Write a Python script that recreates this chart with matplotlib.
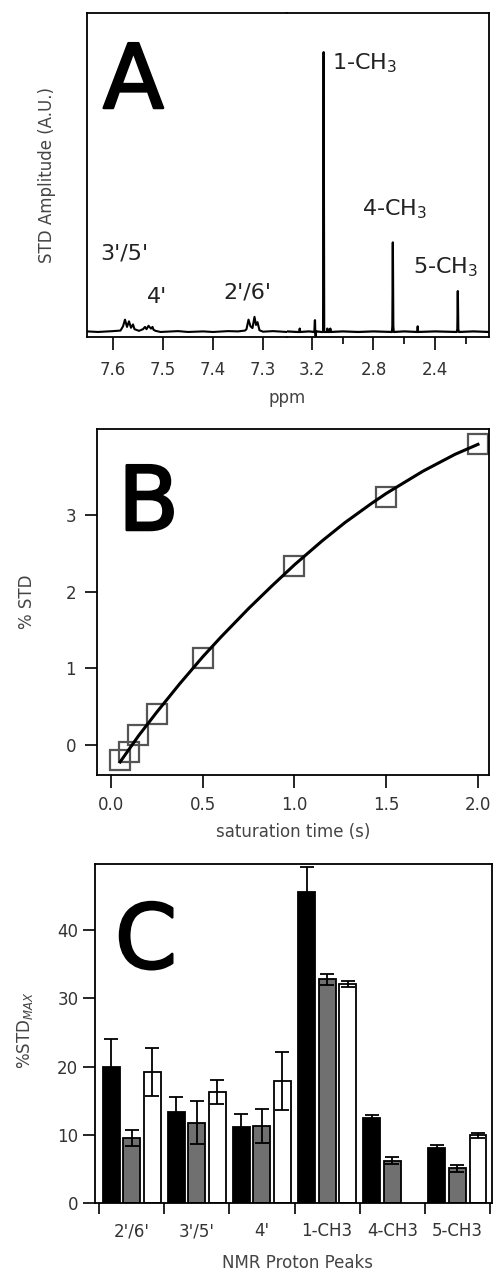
import numpy as np
import matplotlib
matplotlib.use("Agg")
import matplotlib.pyplot as plt
import matplotlib.patheffects as pe
from matplotlib.ticker import FixedLocator, NullLocator

plt.rcParams['font.family'] = ['DejaVu Sans']
plt.rcParams['mathtext.default'] = 'regular'

W, H = 493, 1273

# ---------------- Panel A data (spectrum vertices) ----------------
ppm_arom = [7.652, 7.63, 7.60, 7.585, 7.580, 7.576, 7.572, 7.568, 7.564, 7.560, 7.557,
            7.554, 7.548, 7.540, 7.536, 7.533, 7.529, 7.524, 7.521, 7.519, 7.515, 7.505,
            7.47, 7.45, 7.42, 7.40, 7.37, 7.35, 7.336, 7.333, 7.329, 7.325, 7.321, 7.317,
            7.314, 7.311, 7.307, 7.30, 7.28, 7.252]
amp_arom = [0.002, 0.0, 0.003, 0.005, 0.02, 0.044, 0.018, 0.038, 0.015, 0.027, 0.01,
            0.008, 0.004, 0.01, 0.018, 0.010, 0.022, 0.012, 0.018, 0.008, 0.004, 0.0,
            0.003, 0.0, 0.002, 0.0, 0.003, 0.002, 0.005, 0.01, 0.044, 0.02, 0.014, 0.054,
            0.025, 0.035, 0.006, 0.001, 0.003, 0.0]
ppm_alk = [3.363, 3.30, 3.282, 3.280, 3.278, 3.22, 3.185, 3.181, 3.179, 3.176, 3.174,
           3.170, 3.140, 3.128, 3.1245, 3.121, 3.11, 3.102, 3.100, 3.098, 3.083, 3.081,
           3.079, 3.00, 2.90, 2.80, 2.68, 2.677, 2.674, 2.671, 2.668, 2.60, 2.514, 2.512,
           2.510, 2.40, 2.258, 2.254, 2.251, 2.248, 2.244, 2.15, 2.048]
amp_alk = [0.002, 0.0, 0.0, 0.012, 0.0, 0.002, 0.0, 0.042, 0.0, -0.015, 0.0,
           0.002, 0.0, 0.0, 1.0, 0.0, 0.0, 0.0, 0.012, 0.0, 0.0, 0.012,
           0.0, 0.002, 0.0, 0.002, 0.0, 0.02, 0.32, 0.02, 0.0, 0.002, 0.0, 0.02,
           0.0, 0.002, 0.0, 0.01, 0.146, 0.01, 0.0, 0.002, 0.0]
peak_labels = ["3'/5'", "4'", "2'/6'", "1-CH$_3$", "4-CH$_3$", "5-CH$_3$"]
peak_label_ppm = [7.626, 7.532, 7.38, 3.07, 2.876, 2.542]
peak_label_amp = [0.28, 0.125, 0.14, 0.96, 0.44, 0.23]

# ---------------- Panel B data ----------------
sat_time = [0.05, 0.1, 0.15, 0.25, 0.5, 1.0, 1.5, 2.0]
pct_std = [-0.20, -0.09, 0.13, 0.40, 1.14, 2.33, 3.24, 3.93]
fit_time = [0.05, 0.15, 0.25, 0.375, 0.5, 0.6, 0.75, 0.875, 1.0, 1.15, 1.275,
            1.42, 1.5, 1.7, 1.875, 2.0]
fit_std = [-0.22, 0.12, 0.43, 0.80, 1.15, 1.41, 1.78, 2.07, 2.35, 2.66, 2.90,
           3.15, 3.28, 3.57, 3.79, 3.92]

# ---------------- Panel C data ----------------
peaks = ["2'/6'", "3'/5'", "4'", "1-CH3", "4-CH3", "5-CH3"]
black_vals = [20.0, 13.4, 11.1, 45.6, 12.5, 8.1]
black_err = [4.1, 2.1, 2.0, 3.6, 0.4, 0.4]
grey_vals = [9.5, 11.8, 11.3, 32.8, 6.2, 5.1]
grey_err = [1.2, 3.2, 2.5, 0.8, 0.5, 0.5]
white_vals = [19.2, 16.3, 17.9, 32.1, np.nan, 9.9]
white_err = [3.5, 1.8, 4.3, 0.4, np.nan, 0.4]

fig = plt.figure(figsize=(W / 100, H / 100), dpi=100)
fig.patch.set_facecolor('white')

def ax_rect(l, r, t, b):
    return [l / W, 1 - b / H, (r - l) / W, (b - t) / H]

def fy(py):
    return 1 - py / H

TICKC = '#333333'
LABC = '#444444'
SPW = 1.3
heavy = [pe.withStroke(linewidth=1.8, foreground='black')]

# ---------------- Panel A ----------------
axL = fig.add_axes(ax_rect(87, 287, 13, 337))
axR = fig.add_axes(ax_rect(287, 489, 13, 337))
for ax in (axL, axR):
    ax.set_ylim(-0.018, 1.14)
    ax.yaxis.set_major_locator(NullLocator())
    for s in ax.spines.values():
        s.set_linewidth(SPW)
    ax.tick_params(axis='x', direction='out', length=9, width=1.2, pad=8,
                   labelsize=12, labelcolor=TICKC)
    ax.tick_params(axis='x', which='minor', direction='out', length=5, width=1.2)
axL.spines['right'].set_visible(False)
axR.spines['left'].set_visible(False)
axL.set_xlim(7.652, 7.252)
axR.set_xlim(3.363, 2.048)
axL.xaxis.set_major_locator(FixedLocator([7.6, 7.5, 7.4, 7.3]))
axL.set_xticklabels(['7.6', '7.5', '7.4', '7.3'])
axR.xaxis.set_major_locator(FixedLocator([3.2, 2.8, 2.4]))
axR.set_xticklabels(['3.2', '2.8', '2.4'])
axR.xaxis.set_minor_locator(FixedLocator([3.0, 2.6, 2.2]))
axL.plot(ppm_arom, amp_arom, color='black', lw=1.5)
axR.plot(ppm_alk, amp_alk, color='black', lw=1.6)
for lab, x, y in zip(peak_labels, peak_label_ppm, peak_label_amp):
    ax = axL if x > 5 else axR
    ax.text(x, y, lab, fontsize=16, ha='left', va='center', color='#222222')
fig.text(103 / W, fy(108), 'A', fontsize=64, ha='left', va='baseline',
         color='black', path_effects=heavy)
fig.text(47 / W, fy(175), 'STD Amplitude (A.U.)', rotation=90, fontsize=12,
         ha='center', va='center', color=LABC)
fig.text(287 / W, fy(398), 'ppm', fontsize=12, ha='center', va='center', color=LABC)

# ---------------- Panel B ----------------
axB = fig.add_axes(ax_rect(97, 489, 429, 775))
axB.set_xlim(-0.076, 2.06)
axB.set_ylim(-0.39, 4.12)
for s in axB.spines.values():
    s.set_linewidth(SPW)
axB.plot(fit_time, fit_std, color='black', lw=2.2, zorder=3)
axB.plot(sat_time, pct_std, linestyle='none', marker='s', markersize=14,
         markerfacecolor='none', markeredgecolor='#555555', markeredgewidth=1.6, zorder=2)
axB.xaxis.set_major_locator(FixedLocator([0.0, 0.5, 1.0, 1.5, 2.0]))
axB.set_xticklabels(['0.0', '0.5', '1.0', '1.5', '2.0'])
axB.yaxis.set_major_locator(FixedLocator([0, 1, 2, 3]))
axB.set_yticklabels(['0', '1', '2', '3'])
axB.tick_params(direction='out', length=9, width=1.2, labelsize=12,
                labelcolor=TICKC)
axB.tick_params(axis='x', pad=6)
axB.tick_params(axis='y', pad=6)
fig.text(118 / W, fy(530), 'B', fontsize=64, ha='left', va='baseline',
         color='black', path_effects=heavy)
fig.text(27 / W, fy(602), '% STD', rotation=90, fontsize=12, ha='center',
         va='center', color=LABC)
fig.text(293 / W, fy(832), 'saturation time (s)', fontsize=12, ha='center',
         va='center', color=LABC)

# ---------------- Panel C ----------------
axC = fig.add_axes(ax_rect(95, 492, 864, 1203))
axC.set_xlim(-0.561, 5.53)
axC.set_ylim(0, 49.7)
for s in axC.spines.values():
    s.set_linewidth(SPW)
x = np.arange(len(peaks))
bw = 0.26
off = 0.315
ekw = dict(ecolor='black', elinewidth=1.3, capsize=5, capthick=1.3)
axC.bar(x - off, black_vals, bw, color='black', edgecolor='black', lw=1.3,
        yerr=black_err, error_kw=ekw)
axC.bar(x, grey_vals, bw, color='#707070', edgecolor='black', lw=1.3,
        yerr=grey_err, error_kw=ekw)
axC.bar(x + off, white_vals, bw, color='white', edgecolor='black', lw=1.3,
        yerr=white_err, error_kw=ekw)
axC.xaxis.set_major_locator(FixedLocator(np.arange(-0.5, 6.0, 1.0)))
axC.xaxis.set_minor_locator(FixedLocator(x))
axC.set_xticklabels([], minor=False)
axC.set_xticklabels(peaks, minor=True)
axC.tick_params(axis='x', which='major', direction='out', length=8, width=1.2)
axC.tick_params(axis='x', which='minor', length=0, pad=14, labelsize=12,
                labelcolor=TICKC)
axC.yaxis.set_major_locator(FixedLocator([0, 10, 20, 30, 40]))
axC.set_yticklabels(['0', '10', '20', '30', '40'])
axC.tick_params(axis='y', direction='out', length=9, width=1.2, pad=3,
                labelsize=12, labelcolor=TICKC)
fig.text(115 / W, fy(968), 'C', fontsize=64, ha='left', va='baseline',
         color='black', path_effects=heavy)
fig.text(25 / W, fy(1030), r'%STD$_{\mathit{MAX}}$', rotation=90, fontsize=12,
         ha='center', va='center', color=LABC)
fig.text(297 / W, fy(1263), 'NMR Proton Peaks', fontsize=12, ha='center',
         va='center', color=LABC)

fig.savefig('out.png', dpi=100, facecolor='white')
